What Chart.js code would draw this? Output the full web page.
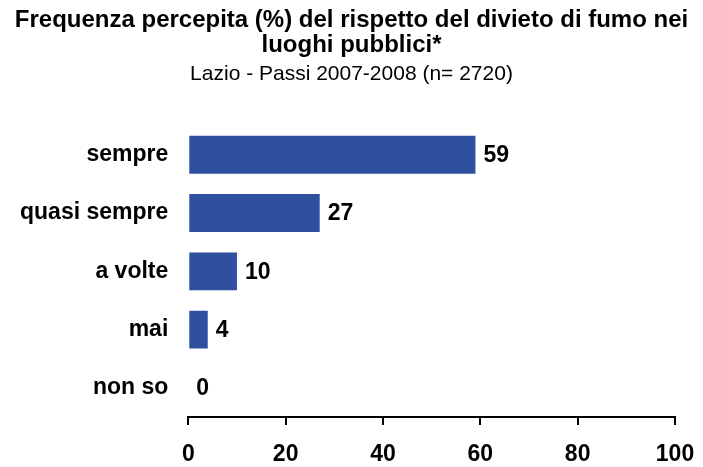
<!DOCTYPE html>
<html>
<head>
<meta charset="utf-8">
<script src="https://cdn.jsdelivr.net/npm/chart.js@4/dist/chart.umd.min.js"></script>
<style>
  html, body { margin: 0; padding: 0; background: #fff; }
  #wrap { width: 703px; height: 467px; }
</style>
</head>
<body>
<div id="wrap"><canvas id="smokeChart" width="703" height="467"></canvas></div>
<script>
const categories = ['sempre', 'quasi sempre', 'a volte', 'mai', 'non so'];
const percentages = [59, 27, 10, 4, 0];
const xTicks = [0, 20, 40, 60, 80, 100];

const titleLines = [
  'Frequenza percepita (%) del rispetto del divieto di fumo nei',
  'luoghi pubblici*',
];
const subtitleText = 'Lazio - Passi 2007-2008 (n= 2720)';

const FONT = '"Liberation Sans", Arial, sans-serif';

// scrive il valore accanto alla barra
const valueLabels = {
  id: 'valueLabels',
  afterDatasetsDraw(chart) {
    const ctx = chart.ctx;
    const meta = chart.getDatasetMeta(0);
    ctx.save();
    ctx.font = 'bold 23px ' + FONT;
    ctx.fillStyle = '#000';
    ctx.textAlign = 'left';
    ctx.textBaseline = 'middle';
    meta.data.forEach((bar, i) => {
      ctx.fillText(String(percentages[i]), bar.x + 8, bar.y + 1);
    });
    ctx.restore();
  },
};

const config = {
  type: 'bar',
  data: {
    labels: categories,
    datasets: [
      {
        data: percentages,
        backgroundColor: '#2f4f9f',
        borderWidth: 0,
        barPercentage: 0.65,
        categoryPercentage: 1,
      },
    ],
  },
  options: {
    indexAxis: 'y',
    responsive: false,
    animation: false,
    layout: {
      padding: { left: 0, right: 0, top: 0, bottom: 0 },
    },
    plugins: {
      legend: { display: false },
      tooltip: { enabled: false },
      title: {
        display: true,
        text: titleLines,
        color: '#000',
        font: { family: FONT, size: 24, weight: 'bold', lineHeight: 1.03 },
        padding: { top: 8, bottom: 0 },
      },
      subtitle: {
        display: true,
        text: subtitleText,
        color: '#000',
        font: { family: FONT, size: 21, weight: 'normal', lineHeight: 1.2 },
        padding: { top: 4, bottom: 39 },
      },
    },
    scales: {
      x: {
        min: 0,
        max: 100,
        afterBuildTicks(axis) {
          axis.ticks = xTicks.map((v) => ({ value: v }));
        },
        // altezza asse e margine destro fissi
        afterFit(axis) {
          axis.height = 50;
          axis.paddingRight = 28;
        },
        grid: {
          display: true,
          drawOnChartArea: false,
          drawTicks: true,
          tickLength: 8,
          color: '#000',
          lineWidth: 2,
        },
        border: { display: true, color: '#000', width: 2 },
        ticks: {
          color: '#000',
          padding: 18,
          font: { family: FONT, size: 23, weight: 'bold', lineHeight: 1 },
        },
      },
      y: {
        grid: { display: false, drawTicks: false },
        border: { display: false },
        ticks: {
          color: '#000',
          padding: 20,
          font: { family: FONT, size: 23, weight: 'bold' },
        },
      },
    },
  },
  plugins: [valueLabels],
};

new Chart(document.getElementById('smokeChart'), config);
</script>
</body>
</html>
